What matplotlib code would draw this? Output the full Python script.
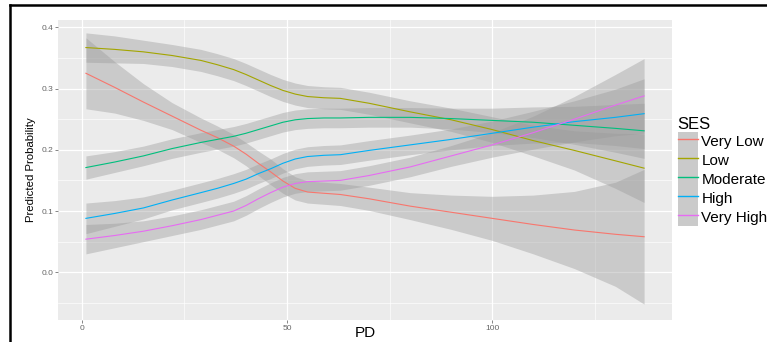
import numpy as np
import matplotlib
matplotlib.use("Agg")
import matplotlib.pyplot as plt
from matplotlib.patches import Patch
from matplotlib.lines import Line2D

plt.rcParams['font.family'] = ['Liberation Sans', 'DejaVu Sans']

# PD values where the fitted curves were read
pd_vals = [1, 8, 15, 22, 29, 33, 37, 40, 43, 46, 49, 52, 55, 59, 63,
           70, 80, 90, 100, 110, 120, 130, 137]

ses_levels = ["Very Low", "Low", "Moderate", "High", "Very High"]
ses_colors = ["#F8766D", "#A3A500", "#00BF7D", "#00B0F6", "#E76BF3"]

# predicted probability (fit) per SES level
fit_very_low = [0.325, 0.302, 0.278, 0.255, 0.232, 0.220, 0.206, 0.193, 0.178, 0.164, 0.149,
                0.137, 0.131, 0.129, 0.127, 0.120, 0.108, 0.098, 0.088, 0.078, 0.069, 0.062, 0.058]
fit_low = [0.367, 0.364, 0.360, 0.354, 0.346, 0.339, 0.331, 0.323, 0.314, 0.305, 0.297,
           0.291, 0.287, 0.285, 0.284, 0.276, 0.262, 0.249, 0.233, 0.215, 0.199, 0.182, 0.170]
fit_moderate = [0.171, 0.180, 0.190, 0.202, 0.212, 0.217, 0.222, 0.227, 0.233, 0.239, 0.245,
                0.249, 0.251, 0.252, 0.252, 0.253, 0.253, 0.251, 0.248, 0.245, 0.240, 0.235, 0.231]
fit_high = [0.088, 0.096, 0.105, 0.118, 0.130, 0.137, 0.145, 0.152, 0.161, 0.169, 0.178,
            0.185, 0.189, 0.191, 0.192, 0.199, 0.208, 0.217, 0.227, 0.237, 0.246, 0.253, 0.259]
fit_very_high = [0.054, 0.060, 0.067, 0.076, 0.086, 0.093, 0.100, 0.109, 0.120, 0.130, 0.139,
                 0.145, 0.148, 0.149, 0.150, 0.158, 0.172, 0.190, 0.208, 0.228, 0.250, 0.273, 0.288]

# half width of the confidence ribbon
se_very_low = [0.058, 0.042, 0.030, 0.022, 0.020, 0.019, 0.019, 0.019, 0.020, 0.021, 0.020,
               0.019, 0.018, 0.018, 0.018, 0.019, 0.022, 0.028, 0.036, 0.048, 0.063, 0.085, 0.110]
se_low = [0.024, 0.022, 0.019, 0.018, 0.018, 0.018, 0.018, 0.018, 0.018, 0.018, 0.018,
          0.018, 0.018, 0.018, 0.018, 0.018, 0.018, 0.019, 0.021, 0.025, 0.032, 0.045, 0.056]
se_moderate = [0.019, 0.017, 0.016, 0.016, 0.016, 0.016, 0.016, 0.016, 0.016, 0.016, 0.016,
               0.016, 0.016, 0.016, 0.016, 0.016, 0.016, 0.017, 0.020, 0.025, 0.031, 0.039, 0.045]
se_high = [0.025, 0.021, 0.018, 0.016, 0.016, 0.016, 0.016, 0.016, 0.016, 0.016, 0.016,
           0.016, 0.016, 0.016, 0.016, 0.016, 0.016, 0.017, 0.020, 0.026, 0.034, 0.046, 0.057]
se_very_high = [0.024, 0.020, 0.017, 0.016, 0.016, 0.016, 0.016, 0.016, 0.016, 0.016, 0.016,
                0.016, 0.016, 0.016, 0.016, 0.016, 0.016, 0.017, 0.020, 0.027, 0.037, 0.050, 0.061]

fits = [fit_very_low, fit_low, fit_moderate, fit_high, fit_very_high]
ses = [se_very_low, se_low, se_moderate, se_high, se_very_high]

fig = plt.figure(figsize=(7.67, 3.42), dpi=100)
ax = fig.add_axes([58 / 767, 22 / 342, 614 / 767, 300 / 342])
ax.set_facecolor("#EBEBEB")

x = np.array(pd_vals)
for fit, se in zip(fits, ses):
    fit = np.array(fit)
    se = np.array(se)
    ax.fill_between(x, fit - se, fit + se, color="#999999", alpha=0.4, linewidth=0, zorder=2)
for fit, col in zip(fits, ses_colors):
    ax.plot(x, fit, color=col, linewidth=0.8, zorder=3)

ax.set_xlim(-5.8, 143.8)
ax.set_ylim(-0.078, 0.412)
ax.set_xticks([0, 50, 100])
ax.set_xticks([25, 75, 125], minor=True)
ax.set_yticks([0.0, 0.1, 0.2, 0.3, 0.4])
ax.set_yticks([-0.05, 0.05, 0.15, 0.25, 0.35], minor=True)
ax.set_yticklabels(["0.0", "0.1", "0.2", "0.3", "0.4"])
ax.grid(True, which="major", color="white", linewidth=0.9, zorder=0)
ax.grid(True, which="minor", color="white", linewidth=0.45, zorder=0)
ax.set_axisbelow(True)
for s in ax.spines.values():
    s.set_visible(False)
ax.tick_params(which="major", length=2, width=0.5, color="#555555",
               labelsize=6, labelcolor="#666666", pad=1.5)
ax.tick_params(which="minor", length=0)

ax.set_xlabel("PD", fontsize=11, labelpad=-4)
ax.set_ylabel("Predicted Probability", fontsize=8.2, labelpad=4)

handles = [(Patch(facecolor="#CACACA", edgecolor="none"), Line2D([], [], color=c, linewidth=1))
           for c in ses_colors]
leg = fig.legend(handles, ses_levels, title="SES", loc="upper left",
                 bbox_to_anchor=(673 / 767, 1 - 112 / 342), frameon=True, fontsize=11,
                 title_fontsize=12, handlelength=1.35, handleheight=1.53, labelspacing=0,
                 handletextpad=0.2, borderpad=0.3, borderaxespad=0)
leg.get_frame().set_facecolor("white")
leg.get_frame().set_edgecolor("none")
leg.get_frame().set_boxstyle("square", pad=0)
leg._legend_box.align = "left"

# scanned frame edges (top and left)
fig.add_artist(Line2D([9.5 / 767, 1], [1 - 4.5 / 342, 1 - 4.5 / 342], color="black", linewidth=1.8))
fig.add_artist(Line2D([9.5 / 767, 9.5 / 767], [0, 1 - 4.5 / 342], color="black", linewidth=1.8))

fig.savefig("out.png", dpi=100)
